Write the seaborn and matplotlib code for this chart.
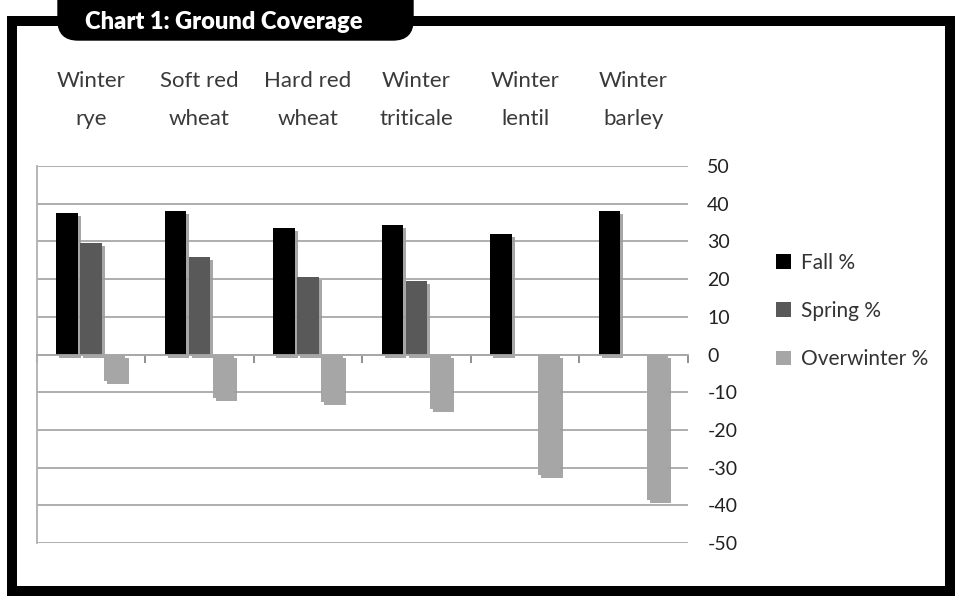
import numpy as np
import pandas as pd
import matplotlib.pyplot as plt
import seaborn as sns
from matplotlib import patheffects
from matplotlib.patches import Rectangle, FancyBboxPatch
from matplotlib.transforms import IdentityTransform

# data
crops = ["Winter\nrye", "Soft red\nwheat", "Hard red\nwheat",
         "Winter\ntriticale", "Winter\nlentil", "Winter\nbarley"]
seasons = ["Fall %", "Spring %", "Overwinter %"]
fall = [37.5, 38, 33.5, 34.5, 32, 38]
spring = [29.5, 26, 20.5, 19.5, np.nan, np.nan]
overwinter = [-7, -11.5, -12.5, -14.5, -32, -38.5]
colors = ["#000000", "#595959", "#a6a6a6"]

df = pd.DataFrame({
    "crop": crops * 3,
    "season": [s for s in seasons for _ in crops],
    "value": fall + spring + overwinter,
})

sns.set_theme(style="white")
plt.rcParams["font.family"] = ["Lato", "DejaVu Sans"]
plt.rcParams["axes.unicode_minus"] = False

W, H = 962, 604
fig = plt.figure(figsize=(W / 100, H / 100), dpi=100)
ax = fig.add_axes([0.038, 0.101, 0.677, 0.624])

sns.barplot(data=df, x="crop", y="value", hue="season", hue_order=seasons,
            order=crops, palette=colors, width=0.66, gap=0.1,
            errorbar=None, linewidth=0, ax=ax)

for p in ax.patches:
    p.set_path_effects([
        patheffects.SimplePatchShadow(offset=(2.2, -2.2), shadow_rgbFace="#9c9c9c", alpha=0.9),
        patheffects.Normal(),
    ])

ax.set_xlim(-0.5, 5.5)
ax.set_ylim(-50, 50)
ax.set_yticks(range(-50, 51, 10))
ax.yaxis.tick_right()
ax.tick_params(axis="y", length=0, pad=14, labelsize=14, labelcolor="#222222")
ax.grid(axis="y", color="#a8a8a8", linewidth=1.3)
ax.set_axisbelow(True)
ax.set_xlabel("")
ax.set_ylabel("")

for side in ["top", "right"]:
    ax.spines[side].set_visible(False)
ax.spines["left"].set_color("#b0b0b0")
ax.spines["left"].set_linewidth(1.3)
ax.spines["bottom"].set_position(("data", 0))
ax.spines["bottom"].set_color("#a8a8a8")
ax.spines["bottom"].set_linewidth(1.3)
ax.spines["bottom"].set_zorder(3)

# category separators on the zero line
ax.set_xticks(np.arange(-0.5, 6, 1))
ax.set_xticklabels([])
ax.tick_params(axis="x", bottom=True, direction="out", length=6, width=1.3, color="#888888")

# category names on top
top = ax.secondary_xaxis("top")
top.set_xticks(range(len(crops)), labels=crops)
top.tick_params(length=0, pad=27, labelsize=16, labelcolor="#3a3a3a")
for lab in top.get_xticklabels():
    lab.set_linespacing(2.1)
top.spines["top"].set_visible(False)

handles, labels = ax.get_legend_handles_labels()
ax.legend_.remove()
leg = fig.legend(handles, labels, loc="center left", bbox_to_anchor=(776 / W, 1 - 311 / H),
                 frameon=False, fontsize=15, handlelength=0.7, handleheight=0.7,
                 handletextpad=0.5, labelspacing=1.35, labelcolor="#333333",
                 borderpad=0, borderaxespad=0)
for h in leg.get_patches():
    h.set_path_effects([])

# black frame and title tab
fig.add_artist(Rectangle((12, 13), 938, 570, fill=False, edgecolor="black",
                         linewidth=7.2, transform=IdentityTransform(), zorder=5))
fig.add_artist(FancyBboxPatch((58, 564), 355, 70, boxstyle="round,pad=0,rounding_size=20",
                              facecolor="black", edgecolor="black",
                              transform=IdentityTransform(), zorder=6))
fig.text(224 / W, 1 - 22 / H, "Chart 1: Ground Coverage", color="white",
         fontsize=17, fontweight="heavy", ha="center", va="center", zorder=7)

fig.savefig("out.png", dpi=100)
